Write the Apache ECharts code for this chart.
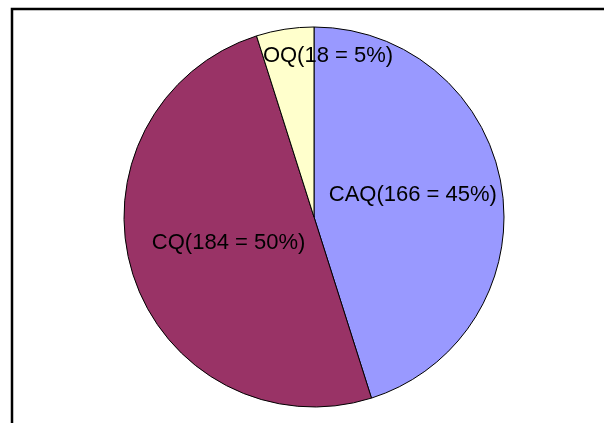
<!DOCTYPE html>
<html>
<head>
<meta charset="utf-8">
<script src="https://cdn.jsdelivr.net/npm/echarts@6/dist/echarts.min.js"></script>
<style>
html,body{margin:0;padding:0;background:#fff;}
#chart{width:604px;height:423px;}
</style>
</head>
<body>
<div id="chart"></div>
<script>
var categories = ['CAQ', 'CQ', 'OQ'];
var values = [166, 184, 18];
var percents = [45, 50, 5];
var colors = ['#9999FF', '#993366', '#FFFFCC'];
var labelOffsets = [[2, -7], [8, -4], [29, -64]];

var chart = echarts.init(document.getElementById('chart'), null, {renderer: 'canvas'});
var data = categories.map(function (c, i) {
  return {
    name: c,
    value: values[i],
    itemStyle: {color: colors[i]},
    label: {offset: labelOffsets[i]}
  };
});
chart.setOption({
  backgroundColor: '#ffffff',
  animation: false,
  graphic: [{
    type: 'rect',
    shape: {x: 12, y: 9, width: 700, height: 500},
    style: {fill: 'none', stroke: '#000', lineWidth: 2.5},
    z: 10
  }],
  series: [{
    type: 'pie',
    center: [314, 217],
    radius: [0, 190],
    startAngle: 90,
    clockwise: true,
    data: data,
    itemStyle: {borderColor: '#000', borderWidth: 1},
    label: {
      show: true,
      position: 'inside',
      color: '#000',
      fontFamily: 'Liberation Sans, Arial, sans-serif',
      fontSize: 22,
      formatter: function (p) {
        return p.name + '(' + p.value + ' = ' + percents[p.dataIndex] + '%)';
      }
    },
    labelLine: {show: false},
    emphasis: {disabled: true}
  }]
});
</script>
</body>
</html>
